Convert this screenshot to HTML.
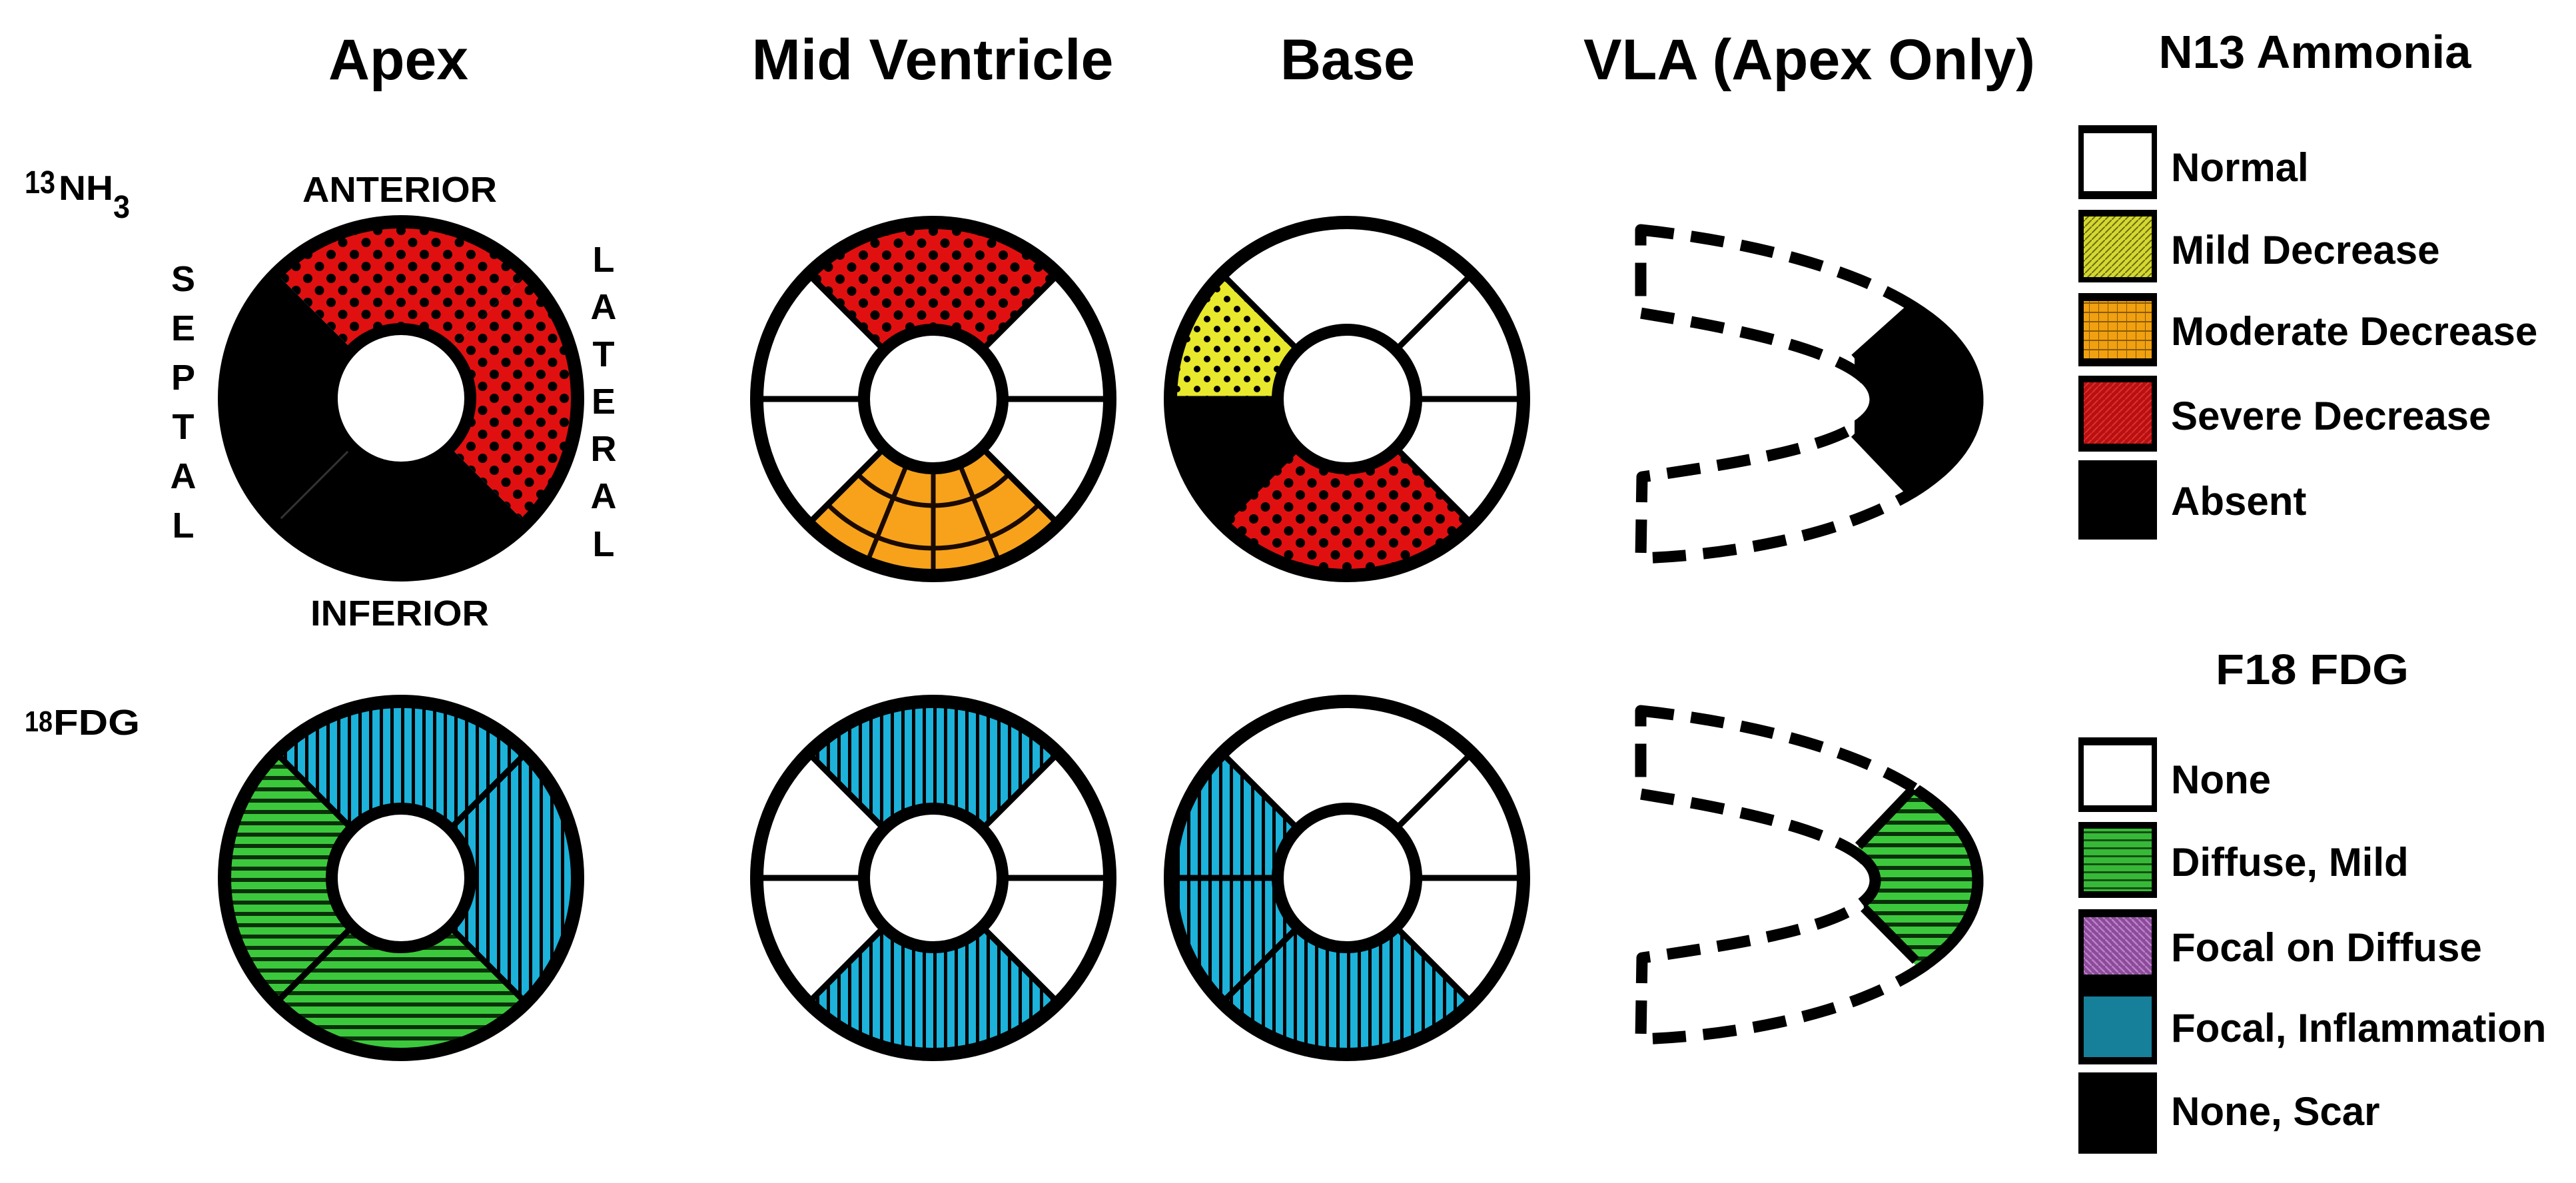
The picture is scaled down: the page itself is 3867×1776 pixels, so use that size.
<!DOCTYPE html>
<html><head><meta charset="utf-8"><style>
html,body{margin:0;padding:0;background:#fff;}
svg{display:block;}
text{font-family:"Liberation Sans",Arial,sans-serif;font-weight:bold;fill:#000;}
</style></head><body>
<svg width="3867" height="1776" viewBox="0 0 3867 1776" xmlns="http://www.w3.org/2000/svg">
<defs>
<pattern id="red" width="35" height="36" patternUnits="userSpaceOnUse">
<rect width="35" height="36" fill="#e01010"/>
<circle cx="0" cy="0" r="7" fill="#000"/><circle cx="35" cy="0" r="7" fill="#000"/>
<circle cx="0" cy="36" r="7" fill="#000"/><circle cx="35" cy="36" r="7" fill="#000"/>
<circle cx="17.5" cy="18" r="7" fill="#000"/></pattern>
<pattern id="yel" width="30" height="30" patternUnits="userSpaceOnUse">
<rect width="30" height="30" fill="#e8e82c"/>
<circle cx="0" cy="0" r="5" fill="#000"/><circle cx="30" cy="0" r="5" fill="#000"/>
<circle cx="0" cy="30" r="5" fill="#000"/><circle cx="30" cy="30" r="5" fill="#000"/>
<circle cx="15" cy="15" r="5" fill="#000"/></pattern>
<pattern id="blue" width="16" height="16" patternUnits="userSpaceOnUse">
<rect width="16" height="16" fill="#1cb2da"/><rect width="5" height="16" fill="#000"/></pattern>
<pattern id="green" width="17" height="17" patternUnits="userSpaceOnUse">
<rect width="17" height="17" fill="#3cc83c"/><rect width="17" height="6" fill="#0a300a"/></pattern>
<pattern id="yelL" width="10" height="10" patternUnits="userSpaceOnUse">
<rect width="10" height="10" fill="#d4d830"/><path d="M0 10 L10 0" stroke="#6a6a10" stroke-width="2"/></pattern>
<pattern id="oraL" width="14" height="14" patternUnits="userSpaceOnUse">
<rect width="14" height="14" fill="#f0a010"/><path d="M0 0 V14 M0 7 H14" stroke="#8a5a00" stroke-width="2"/></pattern>
<pattern id="redL" width="10" height="10" patternUnits="userSpaceOnUse">
<rect width="10" height="10" fill="#b81010"/><path d="M0 10 L10 0" stroke="#e03030" stroke-width="2"/></pattern>
<pattern id="purL" width="10" height="10" patternUnits="userSpaceOnUse">
<rect width="10" height="10" fill="#8a4c9a"/><path d="M0 0 L10 10" stroke="#c080c8" stroke-width="2.5"/></pattern>
<pattern id="greL" width="12" height="12" patternUnits="userSpaceOnUse">
<rect width="12" height="12" fill="#38b838"/><rect width="12" height="3" fill="#105010"/></pattern>
<clipPath id="ring"><path clip-rule="evenodd" d="M-266 0 A266 266 0 1 0 266 0 A266 266 0 1 0 -266 0 Z M-104 0 A104 104 0 1 0 104 0 A104 104 0 1 0 -104 0 Z"/></clipPath>
<clipPath id="wB"><polygon points="0,0 400,400 -400,400"/></clipPath>
<clipPath id="bandC"><polygon points="2784,538 3050,300 3050,930 2784,651"/></clipPath>
<clipPath id="bandC2"><polygon points="2790,548 3050,290 3050,920 2798,641"/></clipPath>
</defs>

<!-- Titles -->
<text x="598" y="119" font-size="86" text-anchor="middle" textLength="210" lengthAdjust="spacingAndGlyphs">Apex</text>
<text x="1400" y="119" font-size="86" text-anchor="middle" textLength="543" lengthAdjust="spacingAndGlyphs">Mid Ventricle</text>
<text x="2023" y="119" font-size="86" text-anchor="middle" textLength="202" lengthAdjust="spacingAndGlyphs">Base</text>
<text x="2716" y="119" font-size="86" text-anchor="middle" textLength="678" lengthAdjust="spacingAndGlyphs">VLA (Apex Only)</text>
<text x="3475" y="102" font-size="70" text-anchor="middle" textLength="469" lengthAdjust="spacingAndGlyphs">N13 Ammonia</text>
<text x="3471" y="1027" font-size="64" text-anchor="middle" textLength="290" lengthAdjust="spacingAndGlyphs">F18 FDG</text>

<!-- row labels -->
<text x="37" y="290" font-size="48" textLength="46" lengthAdjust="spacingAndGlyphs">13</text>
<text x="88" y="300" font-size="52" textLength="82" lengthAdjust="spacingAndGlyphs">NH</text>
<text x="170" y="327" font-size="48" textLength="25" lengthAdjust="spacingAndGlyphs">3</text>
<text x="37" y="1098" font-size="44" textLength="42" lengthAdjust="spacingAndGlyphs">18</text>
<text x="80" y="1103" font-size="54" textLength="130" lengthAdjust="spacingAndGlyphs">FDG</text>

<text x="600" y="303" font-size="54" text-anchor="middle" textLength="292" lengthAdjust="spacingAndGlyphs">ANTERIOR</text>
<text x="600" y="939" font-size="54" text-anchor="middle" textLength="268" lengthAdjust="spacingAndGlyphs">INFERIOR</text>
<g font-size="54" text-anchor="middle">
<text x="275" y="437">S</text><text x="275" y="511">E</text><text x="275" y="585">P</text>
<text x="275" y="659">T</text><text x="275" y="733">A</text><text x="275" y="807">L</text>
<text x="906" y="408">L</text><text x="906" y="479">A</text><text x="906" y="550">T</text>
<text x="906" y="621">E</text><text x="906" y="692">R</text><text x="906" y="763">A</text>
<text x="906" y="835">L</text>
</g>

<!-- Apex top -->
<g transform="translate(602,598)">
<g clip-path="url(#ring)">
<rect x="-300" y="-300" width="600" height="600" fill="#fff"/>
<polygon points="0,0 400,-400 -400,-400" fill="url(#red)"/>
<polygon points="0,0 400,-400 400,400" fill="url(#red)"/>
<polygon points="0,0 -400,-400 -400,400" fill="#000"/>
<polygon points="0,0 400,400 -400,400" fill="#000"/>
<path d="M0 0 L-400 400" stroke="#333" stroke-width="3"/>
</g>
<circle r="265" fill="none" stroke="#000" stroke-width="20"/>
<circle r="104" fill="#fff" stroke="#000" stroke-width="18"/>
</g>

<!-- Apex bottom -->
<g transform="translate(602,1318)">
<g clip-path="url(#ring)">
<polygon points="0,0 400,-400 -400,-400" fill="url(#blue)"/>
<polygon points="0,0 400,-400 400,400" fill="url(#blue)"/>
<polygon points="0,0 -400,-400 -400,400" fill="url(#green)"/>
<polygon points="0,0 400,400 -400,400" fill="url(#green)"/>
<path d="M-400 -400 L400 400 M400 -400 L-400 400" stroke="#000" stroke-width="9"/>
</g>
<circle r="265" fill="none" stroke="#000" stroke-width="20"/>
<circle r="104" fill="#fff" stroke="#000" stroke-width="18"/>
</g>

<!-- Mid top -->
<g transform="translate(1401,599)">
<g clip-path="url(#ring)">
<rect x="-300" y="-300" width="600" height="600" fill="#fff"/>
<polygon points="0,0 400,-400 -400,-400" fill="url(#red)"/>
<polygon points="0,0 400,400 -400,400" fill="#f7a21a"/>
<g clip-path="url(#wB)" fill="none" stroke="#1a0a00" stroke-width="7">
<circle r="160"/><circle r="224"/>
<path d="M0 0 L0 400 M0 0 L162 400 M0 0 L-162 400"/>
</g>
<path d="M-400 -400 L400 400 M400 -400 L-400 400 M-400 0 L400 0" stroke="#000" stroke-width="9"/>
</g>
<circle r="265" fill="none" stroke="#000" stroke-width="20"/>
<circle r="104" fill="#fff" stroke="#000" stroke-width="18"/>
</g>

<!-- Mid bottom -->
<g transform="translate(1401,1318)">
<g clip-path="url(#ring)">
<rect x="-300" y="-300" width="600" height="600" fill="#fff"/>
<polygon points="0,0 400,-400 -400,-400" fill="url(#blue)"/>
<polygon points="0,0 400,400 -400,400" fill="url(#blue)"/>
<path d="M-400 -400 L400 400 M400 -400 L-400 400 M-400 0 L400 0" stroke="#000" stroke-width="9"/>
</g>
<circle r="265" fill="none" stroke="#000" stroke-width="20"/>
<circle r="104" fill="#fff" stroke="#000" stroke-width="18"/>
</g>

<!-- Base top -->
<g transform="translate(2022,599)">
<g clip-path="url(#ring)">
<rect x="-300" y="-300" width="600" height="600" fill="#fff"/>
<polygon points="0,0 -400,0 -400,-400" fill="url(#yel)"/>
<polygon points="0,0 -400,0 -400,400" fill="#000"/>
<polygon points="0,0 400,400 -400,400" fill="url(#red)"/>
<path d="M-400 -400 L400 400 M400 -400 L-400 400 M-400 0 L400 0" stroke="#000" stroke-width="9"/>
</g>
<circle r="265" fill="none" stroke="#000" stroke-width="20"/>
<circle r="104" fill="#fff" stroke="#000" stroke-width="18"/>
</g>

<!-- Base bottom -->
<g transform="translate(2022,1318)">
<g clip-path="url(#ring)">
<rect x="-300" y="-300" width="600" height="600" fill="#fff"/>
<polygon points="0,0 -400,-400 -400,400" fill="url(#blue)"/>
<polygon points="0,0 400,400 -400,400" fill="url(#blue)"/>
<path d="M-400 -400 L400 400 M400 -400 L-400 400 M-400 0 L400 0" stroke="#000" stroke-width="9"/>
</g>
<circle r="265" fill="none" stroke="#000" stroke-width="20"/>
<circle r="104" fill="#fff" stroke="#000" stroke-width="18"/>
</g>

<!-- VLA top -->
<path d="M2463,345 C2700,370 2969,450 2969,600 C2969,750 2700,830 2463,838 L2465,716 C2650,690 2815,660 2815,600 C2815,540 2650,500 2463,470 Z" fill="#fff" stroke="#000" stroke-width="17" stroke-dasharray="50 26" stroke-linejoin="round"/>
<g clip-path="url(#bandC)">
<path d="M2463,345 C2700,370 2969,450 2969,600 C2969,750 2700,830 2463,838 L2465,716 C2650,690 2815,660 2815,600 C2815,540 2650,500 2463,470 Z" fill="#000" stroke="#000" stroke-width="17"/>
</g>
<path d="M2784,538 L2870,461 M2784,651 L2870,741" stroke="#000" stroke-width="14"/>

<!-- VLA bottom -->
<g transform="translate(0,722)">
<path d="M2463,345 C2700,370 2969,450 2969,600 C2969,750 2700,830 2463,838 L2465,716 C2650,690 2815,660 2815,600 C2815,540 2650,500 2463,470 Z" fill="#fff" stroke="#000" stroke-width="17" stroke-dasharray="50 26" stroke-linejoin="round"/>
<g clip-path="url(#bandC2)">
<path d="M2463,345 C2700,370 2969,450 2969,600 C2969,750 2700,830 2463,838 L2465,716 C2650,690 2815,660 2815,600 C2815,540 2650,500 2463,470 Z" fill="url(#green)" stroke="#000" stroke-width="17"/>
</g>
<path d="M2790,548 L2872,462 M2798,641 L2876,720" stroke="#000" stroke-width="14"/>
</g>

<!-- Legend N13 -->
<g stroke="#000" stroke-width="8">
<rect x="3124" y="194" width="110" height="99" fill="#fff"/>
<rect x="3124" y="321" width="110" height="99" fill="url(#yelL)"/>
<rect x="3124" y="448" width="110" height="94" fill="url(#oraL)"/>
<rect x="3124" y="570" width="110" height="100" fill="url(#redL)"/>
<rect x="3124" y="697" width="110" height="108" fill="#000"/>
</g>
<g fill="#000">
<rect x="3120" y="188" width="118" height="12"/><rect x="3120" y="287" width="118" height="12"/>
<rect x="3120" y="315" width="118" height="10"/><rect x="3120" y="440" width="118" height="10"/>
<rect x="3120" y="540" width="118" height="10"/><rect x="3120" y="564" width="118" height="10"/>
<rect x="3120" y="668" width="118" height="10"/><rect x="3120" y="691" width="118" height="10"/>
<rect x="3120" y="800" width="118" height="10"/>
</g>
<g font-size="60">
<text x="3259" y="272">Normal</text>
<text x="3259" y="396">Mild Decrease</text>
<text x="3259" y="518">Moderate Decrease</text>
<text x="3259" y="645">Severe Decrease</text>
<text x="3259" y="773">Absent</text>
</g>

<!-- Legend FDG -->
<g stroke="#000" stroke-width="8">
<rect x="3124" y="1113" width="110" height="102" fill="#fff"/>
<rect x="3124" y="1240" width="110" height="102" fill="url(#greL)"/>
<rect x="3124" y="1373" width="110" height="94" fill="url(#purL)"/>
<rect x="3124" y="1492" width="110" height="99" fill="#16809a"/>
<rect x="3124" y="1616" width="110" height="111" fill="#000"/>
</g>
<g fill="#000">
<rect x="3120" y="1107" width="118" height="12"/><rect x="3120" y="1209" width="118" height="10"/>
<rect x="3120" y="1234" width="118" height="10"/><rect x="3120" y="1338" width="118" height="10"/>
<rect x="3120" y="1365" width="118" height="10"/><rect x="3120" y="1465" width="118" height="28"/>
<rect x="3120" y="1588" width="118" height="10"/><rect x="3120" y="1610" width="118" height="10"/>
<rect x="3120" y="1722" width="118" height="10"/>
</g>
<g font-size="60">
<text x="3259" y="1191">None</text>
<text x="3259" y="1315">Diffuse, Mild</text>
<text x="3259" y="1443">Focal on Diffuse</text>
<text x="3259" y="1564">Focal, Inflammation</text>
<text x="3259" y="1689">None, Scar</text>
</g>
</svg>
</body></html>
